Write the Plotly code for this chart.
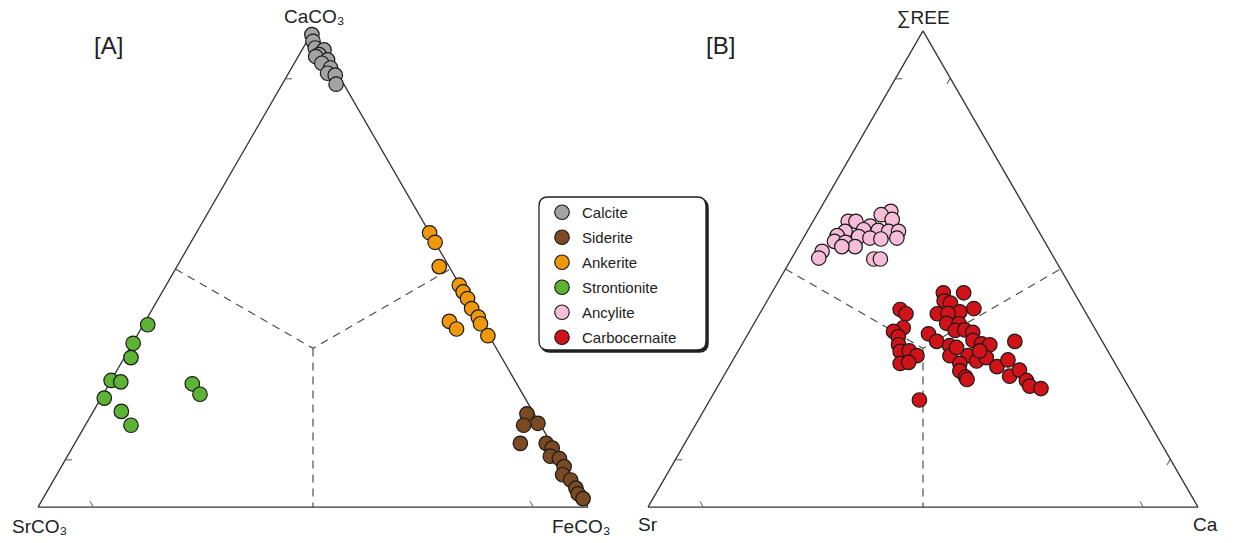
import plotly.graph_objects as go

# ---------------- Panel A: a = CaCO3, b = SrCO3, c = FeCO3 ----------------
calcite_a = [0.992, 0.978, 0.964, 0.960, 0.950, 0.946, 0.939, 0.932, 0.922, 0.911, 0.907, 0.888]
calcite_b = [0.006, 0.011, 0.014, 0.000, 0.014, 0.022, 0.004, 0.018, 0.007, 0.018, 0.006, 0.014]
calcite_c = [0.002, 0.011, 0.022, 0.040, 0.036, 0.032, 0.057, 0.050, 0.071, 0.071, 0.087, 0.098]

siderite_a = [0.196, 0.172, 0.176, 0.134, 0.134, 0.124, 0.107, 0.102, 0.085, 0.068, 0.057, 0.040, 0.028, 0.018]
siderite_b = [0.013, 0.031, 0.003, 0.056, 0.009, 0.003, 0.015, 0.001, 0.001, 0.012, 0.003, 0.002, 0.004, 0.000]
siderite_c = [0.791, 0.797, 0.821, 0.810, 0.857, 0.873, 0.878, 0.897, 0.914, 0.920, 0.940, 0.958, 0.968, 0.982]

ankerite_a = [0.576, 0.556, 0.505, 0.466, 0.452, 0.438, 0.417, 0.399, 0.385, 0.360, 0.390, 0.374]
ankerite_b = [0.000, 0.000, 0.018, 0.001, 0.001, 0.000, 0.003, 0.000, 0.003, 0.002, 0.057, 0.052]
ankerite_c = [0.424, 0.444, 0.477, 0.533, 0.547, 0.562, 0.580, 0.601, 0.612, 0.638, 0.553, 0.574]

stront_a = [0.383, 0.344, 0.314, 0.266, 0.263, 0.229, 0.201, 0.172, 0.259, 0.237]
stront_b = [0.609, 0.655, 0.674, 0.734, 0.718, 0.765, 0.748, 0.745, 0.590, 0.587]
stront_c = [0.008, 0.001, 0.012, 0.000, 0.019, 0.006, 0.051, 0.083, 0.151, 0.176]

# ---------------- Panel B: a = sum REE, b = Sr, c = Ca ----------------
ancylite_a = [0.621, 0.614, 0.604, 0.600, 0.600, 0.590, 0.583, 0.581, 0.579, 0.579, 0.579, 0.570,
              0.568, 0.565, 0.563, 0.565, 0.558, 0.556, 0.547, 0.547, 0.537, 0.523, 0.521, 0.521]
ancylite_b = [0.248, 0.269, 0.254, 0.336, 0.322, 0.301, 0.317, 0.291, 0.273, 0.255, 0.352, 0.371,
              0.333, 0.314, 0.295, 0.265, 0.382, 0.363, 0.350, 0.374, 0.415, 0.428, 0.329, 0.317]
ancylite_c = [0.131, 0.117, 0.142, 0.064, 0.078, 0.109, 0.101, 0.128, 0.148, 0.166, 0.069, 0.059,
              0.099, 0.121, 0.142, 0.170, 0.060, 0.081, 0.103, 0.079, 0.048, 0.049, 0.150, 0.162]

carbo_a = [0.450, 0.450, 0.433, 0.429, 0.415, 0.406, 0.406, 0.410, 0.417, 0.407, 0.386, 0.385,
           0.377, 0.369, 0.371, 0.372, 0.367, 0.364, 0.358, 0.348, 0.350, 0.339, 0.343, 0.341,
           0.348, 0.341, 0.327, 0.328, 0.318, 0.318, 0.318, 0.307, 0.314, 0.302, 0.304, 0.302,
           0.295, 0.309, 0.286, 0.273, 0.268, 0.275, 0.288, 0.266, 0.254, 0.249, 0.225, 0.335, 0.328]
carbo_b = [0.238, 0.201, 0.245, 0.236, 0.334, 0.328, 0.271, 0.228, 0.199, 0.251, 0.264, 0.242,
           0.348, 0.369, 0.256, 0.238, 0.226, 0.308, 0.366, 0.301, 0.234, 0.282, 0.222, 0.208,
           0.159, 0.374, 0.378, 0.361, 0.352, 0.292, 0.259, 0.249, 0.228, 0.391, 0.374, 0.282,
           0.218, 0.191, 0.290, 0.286, 0.286, 0.205, 0.181, 0.179, 0.179, 0.161, 0.394, 0.271, 0.233]
carbo_c = [0.312, 0.349, 0.322, 0.336, 0.251, 0.266, 0.323, 0.362, 0.384, 0.342, 0.350, 0.373,
           0.276, 0.262, 0.373, 0.390, 0.407, 0.328, 0.276, 0.351, 0.416, 0.379, 0.435, 0.451,
           0.493, 0.285, 0.295, 0.311, 0.330, 0.390, 0.423, 0.444, 0.458, 0.308, 0.322, 0.416,
           0.487, 0.500, 0.424, 0.441, 0.446, 0.520, 0.532, 0.555, 0.567, 0.590, 0.381, 0.393, 0.439]

# Field-boundary guides (centroid to edge midpoints)
guide_a = [0.5, 1/3, 0.5, None, 1/3, 0.0]
guide_b = [0.5, 1/3, 0.0, None, 1/3, 0.5]
guide_c = [0.0, 1/3, 0.5, None, 1/3, 0.5]

titles_A = ["CaCO₃", "SrCO₃", "FeCO₃"]
titles_B = ["∑REE", "Sr", "Ca"]

colors = {
    "Calcite": "#a3a3a3",
    "Siderite": "#7a4a22",
    "Ankerite": "#f0980c",
    "Strontionite": "#5cb334",
    "Ancylite": "#f6bdd9",
    "Carbocernaite": "#d11218",
}

FONT = "Arial, Liberation Sans, Helvetica, sans-serif"

# page body margin is removed by post_script, so figure pixels == page pixels
FW, FH = 1236, 543
def px(x):
    return x / FW
def py(y):
    return 1 - y / FH

fig = go.Figure()

for sub in ["ternary", "ternary2"]:
    fig.add_trace(go.Scatterternary(
        a=guide_a, b=guide_b, c=guide_c, mode="lines", subplot=sub,
        line=dict(color="#4d4d4d", width=1.2, dash="8px,6px"),
        showlegend=False, hoverinfo="skip", connectgaps=False))

series = [
    ("Calcite", calcite_a, calcite_b, calcite_c, "ternary"),
    ("Siderite", siderite_a, siderite_b, siderite_c, "ternary"),
    ("Ankerite", ankerite_a, ankerite_b, ankerite_c, "ternary"),
    ("Strontionite", stront_a, stront_b, stront_c, "ternary"),
    ("Ancylite", ancylite_a, ancylite_b, ancylite_c, "ternary2"),
    ("Carbocernaite", carbo_a, carbo_b, carbo_c, "ternary2"),
]
for name, a, b, c, sub in series:
    fig.add_trace(go.Scatterternary(
        a=a, b=b, c=c, mode="markers", name=name, subplot=sub, legendgroup=name,
        cliponaxis=False,
        marker=dict(size=14.5, color=colors[name], line=dict(color="#1a1a1a", width=1.2))))

def axis():
    return dict(title=dict(text=""),
                linecolor="#333", linewidth=1.3, showgrid=False, showticklabels=False,
                ticks="inside", ticklen=6, tickwidth=1, tickcolor="#555",
                tickmode="array", tickvals=[0.1, 0.9], layer="below traces")

tri_w = 550
cy = 1 - 269 / FH
def dom(cx):
    return dict(x=[px(cx - tri_w / 2), px(cx + tri_w / 2)], y=[cy - 0.46, cy + 0.46])

# rounded legend frame (page pixel corners)
L, T, R, B, rr = 539, 197, 706, 350, 9
def rounded(x0, y0, x1, y1, r):
    return (f"M {px(x0 + r)},{py(y0)} L {px(x1 - r)},{py(y0)} Q {px(x1)},{py(y0)} {px(x1)},{py(y0 + r)} "
            f"L {px(x1)},{py(y1 - r)} Q {px(x1)},{py(y1)} {px(x1 - r)},{py(y1)} "
            f"L {px(x0 + r)},{py(y1)} Q {px(x0)},{py(y1)} {px(x0)},{py(y1 - r)} "
            f"L {px(x0)},{py(y0 + r)} Q {px(x0)},{py(y0)} {px(x0 + r)},{py(y0)} Z")

def label(text, x, y, size=19):
    return dict(text=text, x=px(x), y=py(y), xref="paper", yref="paper", showarrow=False,
                xanchor="center", yanchor="middle", font=dict(size=size, family=FONT, color="#222"))

corner_pos_A = [(314, 16), (39, 526), (581, 526)]
corner_pos_B = [(923, 18), (648, 524), (1205, 524)]

annotations = [label("[A]", 108, 45, 24), label("[B]", 720, 45, 24)]
for t, (x, y) in zip(titles_A, corner_pos_A):
    annotations.append(label(t, x, y))
for t, (x, y) in zip(titles_B, corner_pos_B):
    annotations.append(label(t, x, y))

fig.update_layout(
    width=FW, height=FH, margin=dict(l=0, r=0, t=0, b=0),
    paper_bgcolor="white", font=dict(family=FONT, color="#222"),
    ternary=dict(domain=dom(313), bgcolor="rgba(0,0,0,0)",
                 aaxis=axis(), baxis=axis(), caxis=axis()),
    ternary2=dict(domain=dom(923), bgcolor="rgba(0,0,0,0)",
                  aaxis=axis(), baxis=axis(), caxis=axis()),
    legend=dict(x=px(542), y=py(196), xanchor="left", yanchor="top",
                bgcolor="rgba(0,0,0,0)", borderwidth=0,
                font=dict(size=15, family=FONT, color="#222"), tracegroupgap=2.5,
                itemsizing="trace"),
    shapes=[
        dict(type="path", xref="paper", yref="paper", path=rounded(L + 2, T + 2, R + 2, B + 2, rr),
             fillcolor="#222", line=dict(color="#222", width=1.5), layer="below"),
        dict(type="path", xref="paper", yref="paper", path=rounded(L, T, R, B, rr),
             fillcolor="white", line=dict(color="#222", width=1.3), layer="below"),
    ],
    annotations=annotations,
)

fig.write_html("out.html", config={"displayModeBar": False},
               post_script="document.body.style.margin='0px';")
